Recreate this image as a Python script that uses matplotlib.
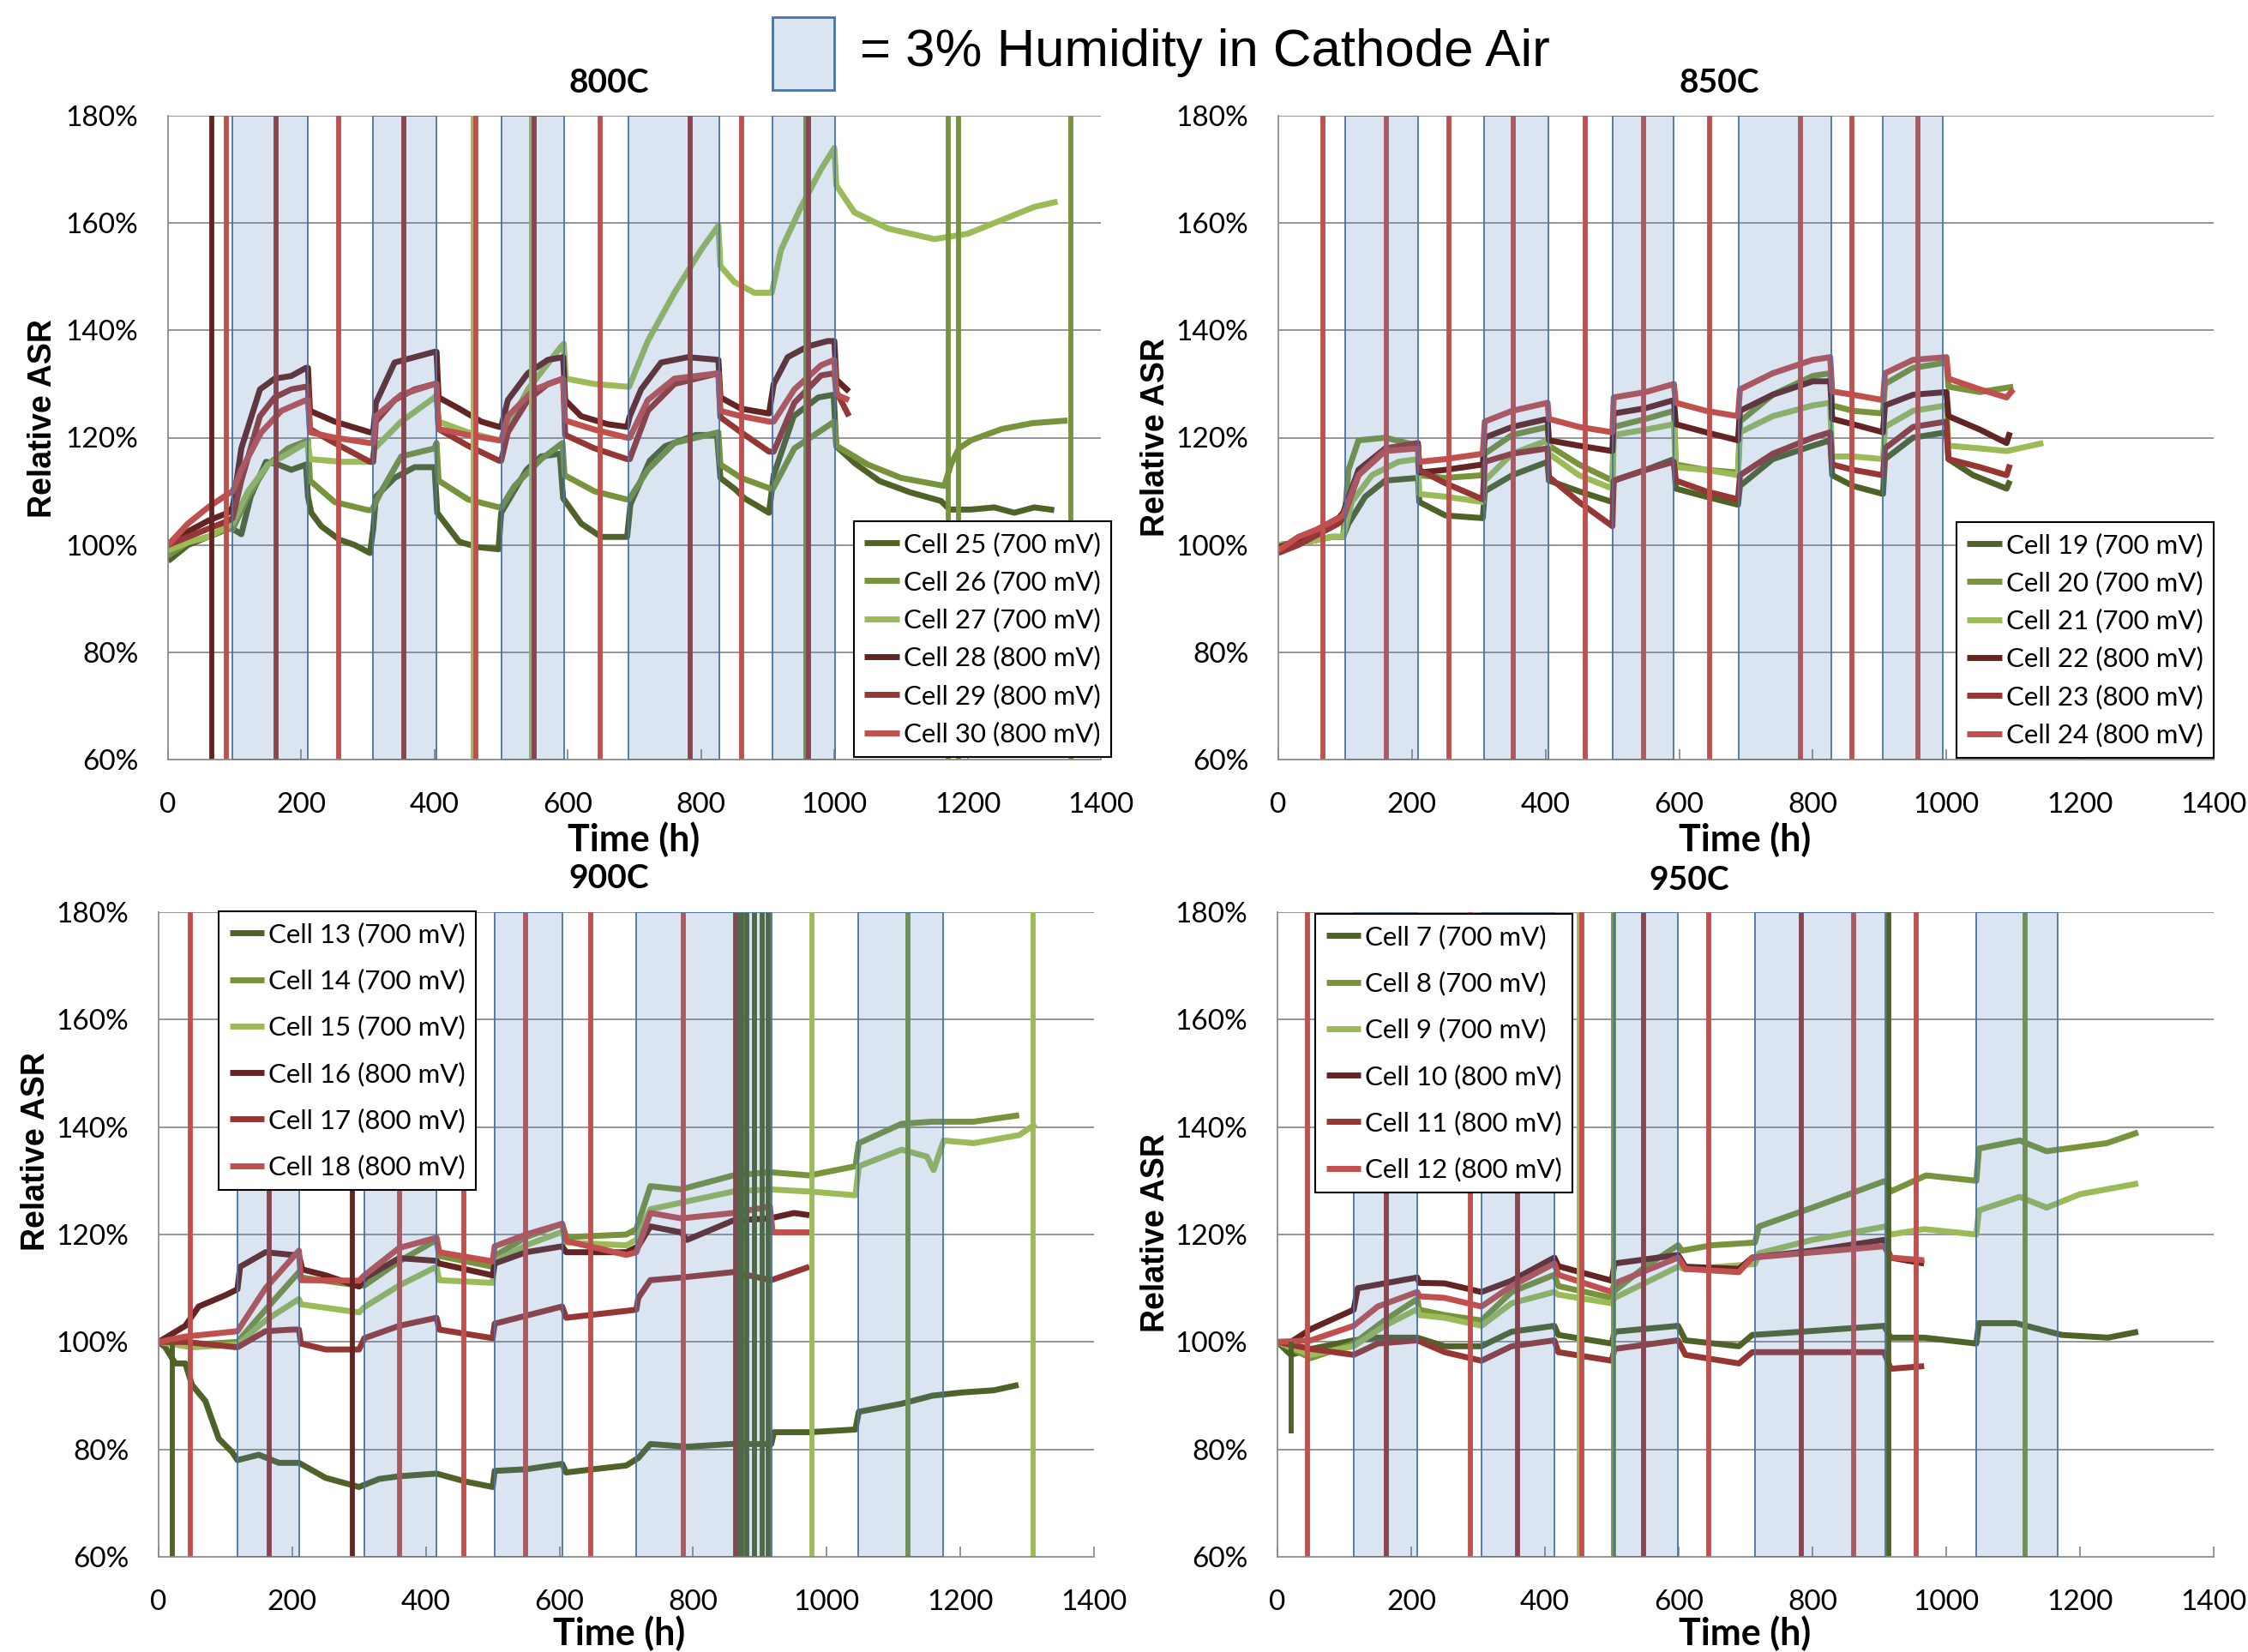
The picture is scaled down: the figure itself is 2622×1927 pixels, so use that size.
import matplotlib
matplotlib.use('Agg')
import matplotlib.pyplot as plt
from matplotlib.patches import Rectangle
from matplotlib.ticker import FuncFormatter

plt.rcParams['font.family'] = ['Lato', 'DejaVu Sans']

W, H, DPI = 2622, 1927, 100

# ---------------- colours ----------------
C700 = ['#4F6228', '#77933C', '#9BBB59']
C800 = ['#632523', '#953735', '#C0504D']

# ---------------- 800C ----------------
t_c25 = [0, 30, 60, 90, 97, 110, 124, 147, 165, 185, 207, 210, 215, 230, 257, 280, 303, 308, 312, 340, 370, 400, 404, 437, 465, 496, 500, 538, 560, 588, 593, 620, 650, 689, 694, 723, 746, 792, 824, 829, 852, 865, 902, 909, 939, 976, 999, 1003, 1031, 1068, 1114, 1160, 1173, 1205, 1240, 1270, 1300, 1330]
v_c25 = [97, 100, 101.5, 103, 103, 102, 109, 115.5, 115, 114, 115, 109, 106, 103.5, 101, 100, 98.5, 103, 109, 112.5, 114.5, 114.5, 106, 100.6, 99.6, 99.2, 106, 114, 116.5, 117, 108.7, 104, 101.5, 101.5, 107.6, 115.7, 118.4, 120.5, 120.5, 112.5, 110.3, 108.7, 106, 113, 124, 127.5, 128, 118.4, 115.2, 111.9, 109.8, 108.2, 106.6, 106.6, 107, 106, 107, 106.5]
t_c26 = [0, 30, 60, 90, 97, 120, 150, 180, 210, 213, 250, 300, 306, 320, 350, 400, 403, 406, 450, 497, 500, 520, 560, 592, 595, 640, 688, 692, 720, 760, 826, 829, 860, 904, 908, 940, 1000, 1003, 1050, 1100, 1165, 1175, 1187, 1205, 1251, 1297, 1350]
v_c26 = [98, 100.5, 101.5, 103, 103, 109, 115, 118, 119.5, 112, 108, 106.5, 106.5, 110, 116.5, 118, 119, 112, 108.5, 107, 107, 111, 116, 119, 113, 110, 108.5, 108.5, 114, 119, 121, 115, 112.5, 110.5, 110.5, 118, 123, 118.5, 115, 112.5, 111, 115, 118, 119.5, 121.6, 122.7, 123.2]
t_c27 = [0, 30, 60, 90, 97, 120, 150, 180, 200, 210, 213, 260, 306, 310, 350, 400, 403, 406, 450, 497, 500, 540, 590, 594, 597, 640, 689, 692, 720, 760, 800, 826, 829, 850, 880, 906, 920, 950, 980, 1000, 1003, 1030, 1080, 1150, 1200, 1250, 1300, 1335]
v_c27 = [99, 100.5, 101.5, 103.5, 104, 110, 115, 117, 118.5, 119, 116, 115.5, 115.5, 118, 123, 127.5, 128, 123, 121, 119.5, 119.5, 129, 137, 137.5, 131, 130, 129.5, 129.5, 138, 147, 155, 159.5, 152, 149, 147, 147, 155, 163, 170, 174, 167, 162, 159, 157, 158, 160.5, 163, 164]
t_c28 = [0, 30, 60, 90, 97, 110, 138, 160, 185, 207, 210, 213, 250, 303, 308, 312, 340, 370, 400, 403, 406, 437, 470, 497, 500, 510, 540, 570, 593, 596, 620, 660, 689, 693, 710, 740, 780, 826, 829, 860, 902, 909, 930, 960, 990, 1000, 1003, 1022]
v_c28 = [100, 102.5, 104.5, 106, 107, 118, 129, 131, 131.5, 133, 133, 125, 123, 121, 121, 126.5, 134, 135, 136, 136, 127.5, 125.4, 123, 122, 122, 127, 132, 134.5, 135, 127, 124, 122.5, 122, 124, 129, 134, 135, 134.5, 127.5, 125.4, 124.5, 130, 135, 137, 138, 138, 130.8, 128.6]
t_c29 = [0, 30, 60, 90, 97, 110, 138, 160, 185, 207, 210, 213, 250, 303, 308, 312, 340, 370, 400, 403, 406, 450, 497, 500, 510, 540, 570, 593, 596, 640, 689, 693, 720, 760, 826, 829, 860, 902, 909, 940, 980, 1000, 1003, 1022]
v_c29 = [100, 101.5, 103, 104.5, 105, 112, 124, 127.5, 129, 129.5, 129.5, 121.6, 119, 115.5, 115.5, 123, 127, 129, 130, 130, 121.6, 118.5, 115.7, 115.7, 121, 127, 130, 131, 120.5, 118, 116, 116, 125, 130, 132, 123.8, 121, 117.4, 117.4, 126.5, 131.6, 132, 128.6, 124]
t_c30 = [0, 30, 60, 90, 97, 110, 140, 170, 207, 210, 213, 250, 303, 308, 312, 350, 400, 403, 406, 450, 497, 500, 510, 550, 593, 596, 640, 689, 693, 720, 760, 826, 829, 860, 902, 909, 940, 980, 1000, 1003, 1022]
v_c30 = [100, 104, 107, 109.5, 110, 114, 121, 125, 127, 127, 121, 120, 119, 119, 124, 128, 130, 130, 121.6, 120.5, 119.5, 119.5, 124, 129, 131, 123.2, 121.5, 120, 120, 127, 131, 132, 125, 124, 123, 123, 129, 133.5, 134.5, 128, 127]
hum_800 = [(97, 210), (308, 403), (500, 594), (691, 827), (907, 1001)]
spike_t_800 = [66, 88, 162, 256, 354, 458, 462, 546, 550, 648, 783, 861, 957, 961, 1171, 1187, 1355]
spike_c_800 = [28, 30, 29, 30, 29, 27, 30, 27, 29, 30, 29, 30, 26, 29, 26, 26, 26]
spike_lo_800 = [50] * 17
spike_hi_800 = [190] * 17

# ---------------- 850C ----------------
t_c19 = [0, 40, 80, 97, 105, 130, 160, 209, 211, 250, 306, 309, 350, 403, 405, 450, 500, 502, 550, 592, 595, 640, 688, 691, 740, 800, 826, 829, 860, 905, 908, 950, 1000, 1003, 1040, 1090, 1095]
v_c19 = [100, 100.5, 101.5, 101.5, 104, 109, 112, 112.5, 108, 105.5, 105, 110, 113, 115.5, 112, 110, 108, 112, 114, 116, 110.5, 109, 107.5, 111, 116, 118.5, 119.5, 113, 111, 109.5, 116, 120, 121, 116, 113, 110.5, 112]
t_c20 = [0, 40, 80, 97, 105, 120, 160, 209, 211, 250, 306, 309, 350, 403, 405, 450, 500, 502, 550, 592, 595, 640, 688, 691, 740, 800, 826, 829, 860, 905, 908, 950, 1000, 1003, 1050, 1100]
v_c20 = [100, 100.5, 101.5, 101.5, 114, 119.5, 120, 118.5, 113, 112.5, 113, 117, 120.5, 122, 118.5, 115, 112, 122, 123.5, 125, 115, 114, 113.5, 123, 128, 131.5, 132, 126, 125, 124.5, 130, 133, 134, 129.5, 128.5, 129.5]
t_c21 = [0, 40, 80, 97, 110, 140, 180, 209, 211, 250, 306, 309, 350, 403, 405, 450, 500, 502, 550, 592, 595, 640, 688, 691, 740, 800, 826, 829, 860, 905, 908, 950, 1000, 1003, 1050, 1090, 1145]
v_c21 = [100, 100.5, 101.5, 101.5, 108, 113, 115.5, 116, 109.5, 109, 108, 112, 117, 119.5, 117, 113, 110.5, 120.5, 121.5, 122.5, 114.5, 114, 113, 121, 124, 126, 126.5, 116.5, 116.5, 116, 122, 125, 126, 118.5, 118, 117.5, 119]
t_c22 = [0, 30, 60, 90, 97, 120, 160, 209, 211, 250, 306, 309, 350, 403, 405, 450, 500, 502, 550, 592, 595, 640, 688, 691, 740, 800, 826, 829, 860, 905, 908, 950, 1000, 1003, 1050, 1090, 1095]
v_c22 = [99.5, 101, 103, 105, 106, 114, 118, 118.5, 113.5, 114, 115, 120, 122, 123.5, 119.5, 118.5, 117.5, 124.5, 125.5, 127, 122.5, 121, 119.5, 125, 128, 130.5, 130.5, 123.5, 122.5, 121, 126, 128, 128.5, 124, 121.5, 119, 121]
t_c23 = [0, 30, 60, 90, 97, 120, 160, 209, 211, 250, 306, 309, 350, 403, 405, 450, 500, 502, 550, 592, 595, 640, 688, 691, 740, 800, 826, 829, 860, 905, 908, 950, 1000, 1003, 1050, 1090, 1095]
v_c23 = [98.5, 100, 102, 104, 105, 113, 118, 119, 114, 111.5, 108.5, 115.5, 117, 118, 112.7, 108, 103.5, 112, 114, 115.5, 112, 110, 108.5, 113, 117, 120, 121, 115, 114, 113, 118, 122, 123, 116, 114.5, 113, 115]
t_c24 = [0, 30, 60, 90, 97, 120, 160, 209, 211, 250, 306, 309, 350, 403, 405, 450, 500, 502, 550, 592, 595, 640, 688, 691, 740, 800, 826, 829, 860, 905, 908, 950, 1000, 1003, 1050, 1090, 1100]
v_c24 = [99, 101.5, 103, 105, 105.5, 113, 117.5, 118, 115.5, 116, 117, 123, 125, 126.5, 123.5, 122, 121, 127.5, 128.5, 130, 126.5, 125, 124, 129, 132, 134.5, 135, 128.6, 128, 127, 132, 134.5, 135, 131, 129, 127.5, 129]
hum_850 = [(100, 209), (308, 404), (501, 592), (689, 828), (905, 994)]
spike_t_850 = [67, 162, 255, 352, 460, 547, 645, 781, 859, 957]
spike_c_850 = [24, 24, 24, 24, 24, 24, 24, 24, 24, 24]
spike_lo_850 = [50] * 10
spike_hi_850 = [190] * 10

# ---------------- 900C ----------------
t_c13 = [0, 10, 25, 40, 50, 70, 90, 110, 118, 150, 180, 210, 250, 300, 330, 360, 416, 460, 500, 503, 550, 604, 610, 650, 700, 718, 736, 791, 857, 917, 921, 974, 1043, 1048, 1112, 1158, 1203, 1250, 1287]
v_c13 = [100, 99, 96, 96, 92, 89, 82, 79.5, 78, 79, 77.5, 77.5, 74.7, 73, 74.5, 75, 75.5, 74, 73, 76, 76.3, 77.3, 75.7, 76.3, 77, 78.4, 81, 80.5, 81, 81, 83.2, 83.2, 83.7, 87, 88.5, 90, 90.6, 91, 92]
t_c14 = [0, 50, 118, 160, 210, 213, 300, 308, 360, 416, 420, 500, 503, 550, 604, 610, 700, 715, 736, 782, 860, 915, 974, 1043, 1048, 1112, 1158, 1220, 1288]
v_c14 = [100, 99.5, 100, 106, 113, 112, 110.5, 110.5, 115, 119, 116, 114, 116, 119.5, 122, 119.5, 120, 121, 129, 128.4, 131, 131.6, 131, 132.7, 137, 140.6, 141, 141, 142.2]
t_c15 = [0, 50, 118, 160, 210, 213, 300, 308, 360, 416, 420, 500, 503, 550, 604, 610, 700, 715, 736, 860, 915, 974, 1043, 1048, 1112, 1150, 1160, 1175, 1220, 1288, 1313]
v_c15 = [100, 99, 99.5, 104, 108, 107, 105.5, 106.5, 110.5, 114, 111.5, 111, 115, 118, 120.5, 118.5, 118, 119, 124.7, 128, 128.4, 128, 127.3, 132.7, 135.8, 134.5, 132, 137.5, 137, 138.5, 140.6]
t_c16 = [0, 40, 60, 100, 118, 122, 160, 200, 210, 215, 250, 300, 310, 360, 416, 420, 500, 503, 550, 604, 610, 700, 718, 736, 782, 791, 860, 915, 951, 974]
v_c16 = [100, 103, 106.6, 108.7, 109.8, 114, 116.7, 116.2, 116.2, 113.5, 112.4, 110.3, 112, 115.6, 115.1, 114.6, 112.4, 114.6, 116.7, 117.8, 116.7, 116.7, 117.8, 121.5, 120.4, 119, 122.6, 123, 124, 123.6]
t_c17 = [0, 40, 118, 160, 200, 210, 213, 250, 300, 308, 360, 416, 420, 500, 503, 604, 610, 715, 718, 736, 783, 860, 917, 974]
v_c17 = [100, 100, 99, 102, 102.3, 102.3, 99.7, 98.6, 98.6, 100.7, 103, 104.5, 102.3, 100.7, 103.4, 106.6, 104.5, 106, 108.2, 111.5, 112, 113, 111.5, 114]
t_c18 = [0, 40, 118, 160, 210, 213, 300, 308, 360, 416, 420, 500, 503, 550, 604, 610, 700, 715, 736, 782, 860, 915, 919, 974]
v_c18 = [100, 101, 102, 110, 117, 111.5, 111.4, 112.4, 117.5, 119.4, 116.7, 115, 117.8, 120, 122, 118.8, 116.2, 116.7, 124, 123, 124, 125.2, 120.4, 120.4]
hum_900 = [(118, 211), (308, 416), (503, 604), (715, 917), (1047, 1174)]
spike_t_900 = [20, 48, 165, 290, 361, 457, 549, 647, 785, 863, 869, 873, 880, 892, 903, 912, 978, 1121, 1309]
spike_c_900 = [13, 18, 17, 16, 18, 18, 18, 18, 18, 17, 13, 13, 13, 13, 13, 13, 15, 14, 15]
spike_lo_900 = [50] + [50] * 18
spike_hi_900 = [100] + [190] * 18

# ---------------- 950C ----------------
t_c7 = [0, 20, 50, 114, 150, 209, 250, 305, 350, 414, 420, 500, 504, 599, 610, 690, 710, 784, 907, 917, 967, 1045, 1049, 1104, 1173, 1242, 1287]
v_c7 = [100, 97.6, 98.7, 100.3, 100.8, 100.8, 99.2, 99.2, 101.9, 103, 101.3, 99.7, 101.9, 103, 100.3, 99.2, 101.3, 101.9, 103, 100.8, 100.8, 99.7, 103.5, 103.5, 101.3, 100.8, 101.9]
t_c8 = [0, 50, 114, 160, 209, 212, 250, 305, 350, 414, 420, 500, 504, 550, 599, 605, 650, 714, 720, 800, 909, 917, 970, 1045, 1049, 1110, 1150, 1240, 1287]
v_c8 = [100, 97, 99.7, 104, 108, 106, 105, 104, 109.3, 112.5, 110.4, 108.2, 109.5, 114, 118, 117, 118, 118.5, 121.5, 125, 130, 128, 131, 130, 136, 137.5, 135.5, 137, 139]
t_c9 = [0, 50, 114, 160, 209, 212, 250, 305, 350, 414, 420, 500, 504, 550, 599, 610, 714, 720, 800, 909, 917, 967, 1045, 1049, 1110, 1150, 1200, 1287]
v_c9 = [100, 97.6, 99.2, 103, 106.1, 105, 104.5, 103, 107.2, 109.3, 108.8, 107.2, 108.2, 111, 114, 113.5, 114.5, 116.5, 119, 121.5, 120, 121, 120, 124.5, 127, 125, 127.5, 129.5]
t_c10 = [0, 20, 50, 114, 120, 209, 212, 250, 305, 350, 414, 420, 500, 504, 599, 610, 690, 710, 800, 907, 917, 967]
v_c10 = [100, 100, 102.4, 106, 110, 112, 111, 110.9, 109.3, 111.4, 115.7, 114.1, 111.4, 114.6, 116.2, 114, 113.6, 115.7, 117, 119, 115.7, 114.6]
t_c11 = [0, 50, 114, 150, 209, 250, 305, 350, 414, 420, 500, 504, 599, 610, 690, 710, 907, 917, 967]
v_c11 = [100, 98.7, 97.6, 99.7, 100.3, 98.1, 96.5, 99.2, 100.3, 98.1, 96.5, 98.7, 100.3, 97.6, 96, 98.1, 98.1, 95, 95.5]
t_c12 = [0, 50, 114, 150, 209, 212, 250, 305, 350, 414, 420, 500, 504, 599, 610, 690, 710, 907, 917, 967]
v_c12 = [100, 100.3, 103, 106.6, 109.3, 108.5, 108.2, 106.6, 110.4, 114.6, 112.5, 109.3, 110.9, 115.7, 113.6, 113, 115.7, 117.8, 115.7, 115.2]
hum_950 = [(114, 209), (305, 414), (504, 599), (714, 909), (1045, 1167)]
spike_t_950 = [21, 45, 163, 288, 359, 451, 455, 503, 548, 645, 783, 861, 914, 955, 1118]
spike_c_950 = [7, 12, 11, 12, 11, 9, 12, 8, 11, 12, 11, 12, 7, 12, 8]
spike_lo_950 = [83] + [50] * 14
spike_hi_950 = [100] + [190] * 14

x_ticks = [0, 200, 400, 600, 800, 1000, 1200, 1400]
y_ticks = [60, 80, 100, 120, 140, 160, 180]

series = {
    25: (t_c25, v_c25), 26: (t_c26, v_c26), 27: (t_c27, v_c27),
    28: (t_c28, v_c28), 29: (t_c29, v_c29), 30: (t_c30, v_c30),
    19: (t_c19, v_c19), 20: (t_c20, v_c20), 21: (t_c21, v_c21),
    22: (t_c22, v_c22), 23: (t_c23, v_c23), 24: (t_c24, v_c24),
    13: (t_c13, v_c13), 14: (t_c14, v_c14), 15: (t_c15, v_c15),
    16: (t_c16, v_c16), 17: (t_c17, v_c17), 18: (t_c18, v_c18),
    7: (t_c7, v_c7), 8: (t_c8, v_c8), 9: (t_c9, v_c9),
    10: (t_c10, v_c10), 11: (t_c11, v_c11), 12: (t_c12, v_c12),
}

panels = [
    dict(box=(196, 1284, 135, 886), title='800C', title_xy=(710, 97), ylab_xy=(50, 488),
         xlab_xy=(739, 979), cells=[25, 26, 27, 28, 29, 30], hum=hum_800,
         spikes=(spike_t_800, spike_c_800, spike_lo_800, spike_hi_800),
         leg_loc='lower right', leg_xy=(1296, 883), leg_sp=0.5),
    dict(box=(1491, 2582, 135, 886), title='850C', title_xy=(2005, 97), ylab_xy=(1348, 510),
         xlab_xy=(2035, 979), cells=[19, 20, 21, 22, 23, 24], hum=hum_850,
         spikes=(spike_t_850, spike_c_850, spike_lo_850, spike_hi_850),
         leg_loc='lower right', leg_xy=(2582, 884), leg_sp=0.5),
    dict(box=(185, 1276, 1064, 1816), title='900C', title_xy=(710, 1024), ylab_xy=(42, 1343),
         xlab_xy=(722, 1905), cells=[13, 14, 15, 16, 17, 18], hum=hum_900,
         spikes=(spike_t_900, spike_c_900, spike_lo_900, spike_hi_900),
         leg_loc='upper left', leg_xy=(255, 1063), leg_sp=0.82),
    dict(box=(1490, 2582, 1064, 1816), title='950C', title_xy=(1970, 1027), ylab_xy=(1348, 1438),
         xlab_xy=(2035, 1905), cells=[7, 8, 9, 10, 11, 12], hum=hum_950,
         spikes=(spike_t_950, spike_c_950, spike_lo_950, spike_hi_950),
         leg_loc='upper left', leg_xy=(1534, 1066), leg_sp=0.82),
]

GRID = '#8C8C8C'
LW = 5.0

fig = plt.figure(figsize=(W / DPI, H / DPI), dpi=DPI)
fig.patch.set_facecolor('white')


def fx(px):
    return px / W


def fy(py):
    return 1 - py / H


def color_of(cell, cells):
    return (C700 + C800)[cells.index(cell)]


for p in panels:
    x0, x1, yt, yb = p['box']
    ax = fig.add_axes([fx(x0), fy(yb), (x1 - x0) / W, (yb - yt) / H])
    ax.set_xlim(0, 1400)
    ax.set_ylim(60, 180)
    ax.set_facecolor('none')
    for s in ['top', 'right']:
        ax.spines[s].set_visible(False)
    for s in ['left', 'bottom']:
        ax.spines[s].set_color(GRID)
        ax.spines[s].set_linewidth(1.3)
    ax.set_xticks(x_ticks)
    ax.set_yticks(y_ticks)
    ax.yaxis.set_major_formatter(FuncFormatter(lambda v, pos: f'{int(v)}%'))
    ax.tick_params(axis='x', direction='in', length=9, width=1.3, color=GRID,
                   labelsize=24, pad=27)
    ax.tick_params(axis='y', length=0, labelsize=24, pad=25)
    for y in y_ticks[1:]:
        ax.axhline(y, color=GRID, lw=1.3, zorder=1)

    handles = []
    for cell in p['cells']:
        t, v = series[cell]
        mv = 700 if p['cells'].index(cell) < 3 else 800
        ln, = ax.plot(t, v, color=color_of(cell, p['cells']), lw=LW,
                      solid_joinstyle='round', solid_capstyle='butt', zorder=2,
                      label=f'Cell {cell} ({mv} mV)')
        handles.append(ln)

    st, sc, slo, shi = p['spikes']
    for t, c, lo, hi in zip(st, sc, slo, shi):
        ax.vlines(t, lo, hi, color=color_of(c, p['cells']), lw=4.2, zorder=2.5)

    for a, b in p['hum']:
        ax.add_patch(Rectangle((a, 60), b - a, 120, facecolor=(79/255, 129/255, 189/255, 0.2),
                               edgecolor='#4A72A8', lw=1.3, zorder=3))

    leg = ax.legend(handles=handles, loc=p['leg_loc'],
                    bbox_to_anchor=(fx(p['leg_xy'][0]), fy(p['leg_xy'][1])),
                    bbox_transform=fig.transFigure, fontsize=22.5, frameon=True,
                    fancybox=False, framealpha=1, edgecolor='black',
                    handlelength=1.3, handletextpad=0.15, borderpad=0.4,
                    labelspacing=p['leg_sp'], borderaxespad=0)
    leg.get_frame().set_linewidth(1.5)
    leg.set_zorder(10)

    fig.text(fx(p['title_xy'][0]), fy(p['title_xy'][1]), p['title'], ha='center', va='center',
             fontsize=28, fontweight='bold')
    fig.text(fx(p['xlab_xy'][0]), fy(p['xlab_xy'][1]), 'Time (h)', ha='center', va='center',
             fontsize=31, fontweight='bold')
    fig.text(fx(p['ylab_xy'][0]), fy(p['ylab_xy'][1]), 'Relative ASR', ha='center', va='center',
             rotation=90, fontsize=27, fontweight='bold', family=['Liberation Sans', 'DejaVu Sans'])

# header key
fig.patches.append(Rectangle((fx(901), fy(105)), 72 / W, 85 / H, transform=fig.transFigure,
                             facecolor='#DCE6F2', edgecolor='#4A72A8', lw=2))
fig.text(fx(1003), fy(62), '= 3% Humidity in Cathode Air', ha='left', va='center',
         fontsize=44.5, family=['Liberation Sans', 'DejaVu Sans'])

fig.savefig('out.png', dpi=DPI, facecolor='white')
